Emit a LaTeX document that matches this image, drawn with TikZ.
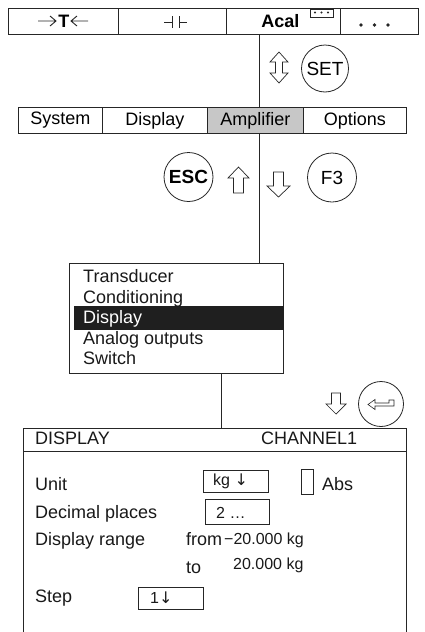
\documentclass[tikz,border=0pt]{standalone}
\usepackage{fontspec}
\setmainfont{Liberation Sans}
\newfontfamily\arrfont{DejaVu Sans}
\begin{document}
\begin{tikzpicture}[x=1pt,y=-1pt,
  ln/.style={draw=black!85, line width=0.8pt},
  cell/.style={ln, minimum height=26pt, inner sep=0pt, anchor=north west, font=\fontsize{18}{20}\selectfont},
  tab/.style={ln, minimum height=26pt, inner sep=0pt, anchor=north west, font=\fontsize{18}{20}\selectfont},
  txt/.style={anchor=base west, inner sep=0pt, font=\fontsize{18}{20}\selectfont, text=black!90},
  sm/.style={anchor=base west, inner sep=0pt, font=\fontsize{16}{18}\selectfont, text=black!90},
  circ/.style={ln, circle, minimum size=47pt, inner sep=0pt, font=\fontsize{19}{20}\selectfont},
  field/.style={ln, anchor=north west, inner sep=0pt},
  harrow/.style={draw=black!85, line width=0.7pt, fill=white, line join=miter},
  thin/.style={draw=black!85, line width=0.9pt},
  dot/.style={fill=black!85, draw=none}
]
\useasboundingbox (0,0) rectangle (424,632);

% top bar
\node[cell, minimum width=110pt] (c1) at (8,8) {\hspace*{1pt}\textbf{T}};
\node[cell, minimum width=108pt] (c2) at (118,8) {};
\node[cell, minimum width=114pt] (c3) at (226,8) {\hspace*{-6pt}\textbf{Acal}};
\node[cell, minimum width=78pt] (c4) at (340,8) {};
% arrows around T
\draw[thin] (38,21) -- (56,21) (50,16) -- (56,21) -- (50,26);
\draw[thin] (71,21) -- (88,21) (77,16) -- (71,21) -- (77,26);
% capacitor-like symbol
\draw[thin, line width=1pt] (164,22) -- (172,22) (172,16) -- (172,28) (179,16) -- (179,28) (179,22) -- (187,22);
% small box above Acal
\node[field, minimum width=23pt, minimum height=8pt] (acalbox) at (310,8.5) {};
\foreach \x in {315,321.5,328} \fill[dot] (\x,12.5) circle (1.1);
% dots in last cell
\foreach \x in {361,374.5,388} \fill[dot] (\x,25) circle (1.9);

% tabs
\node[tab, minimum width=84pt] (t1) at (18,107) {System};
\node[tab, minimum width=105pt] (t2) at (102,107) {Display};
\node[tab, minimum width=96pt, fill=black!22] (t3) at (207,107) {Amplifier};
\node[tab, minimum width=103pt] (t4) at (303,107) {Options};

% SET
\node[circ] (set) at (325,68.5) {SET};
\draw[harrow] (279,52) -- (288,62) -- (282.5,62) -- (282.5,73) -- (288,73) -- (279,83)
  -- (270,73) -- (275.5,73) -- (275.5,62) -- (270,62) -- cycle;

% ESC / F3
\node[circ, minimum size=49pt, font=\fontsize{19}{20}\selectfont\bfseries] (esc) at (188.5,177) {ESC};
\node[circ, minimum size=49pt] (f3) at (332,177.5) {F3};
\draw[harrow] (238.5,167) -- (249,178) -- (243.5,178) -- (243.5,193) -- (233.5,193) -- (233.5,178) -- (228,178) -- cycle;
\draw[harrow] (273.5,172) -- (283.5,172) -- (283.5,186) -- (290,186) -- (278.5,197) -- (267,186) -- (273.5,186) -- cycle;

% menu
\node[ln, minimum width=214pt, minimum height=110pt, anchor=north west, inner sep=0pt] (menu) at (69,263) {};
\node[fill=black!88, minimum width=210pt, minimum height=24pt, anchor=north west, inner sep=0pt] (hl) at (74,306) {};
\node[txt] (m1) at (83,282) {Transducer};
\node[txt] (m2) at (83,303) {Conditioning};
\node[txt, text=white] (m3) at (83,323.5) {Display};
\node[txt] (m4) at (83,344) {Analog outputs};
\node[txt] (m5) at (83,364) {Switch};

% connectors
\coordinate (lx) at (259,0);
\coordinate (ly) at (221,0);
\coordinate (dtop) at (221,428);
\draw[ln] (c3.south -| lx) -- (t3.north -| lx);
\draw[ln] (t3.south -| lx) -- (menu.north -| lx);
\draw[ln] (menu.south -| ly) -- (dtop);

% enter
\node[circ, minimum size=45pt] (enter) at (381,404) {};
\draw[harrow, line width=0.6pt] (368,404.5) -- (375,399.5) -- (375,403) -- (389,403) -- (389,400) -- (394,400)
  -- (394,406) -- (375,406) -- (375,409.5) -- cycle;
\draw[harrow] (331.5,393) -- (340.5,393) -- (340.5,404) -- (346,404) -- (336,414) -- (326,404) -- (331.5,404) -- cycle;

% display box
\draw[ln] (23,632) -- (23,428) -- (406,428) -- (406,632);
\draw[ln] (23,451) -- (406,451);
\node[txt] (dhead) at (35,444) {DISPLAY};
\node[txt] (chan) at (261,444) {CHANNEL1};

\node[txt] (unit) at (35,490) {Unit};
\node[field, minimum width=65pt, minimum height=22pt] (unitbox) at (203,470) {};
\node[sm] (unitval) at (213,485) {kg {\arrfont ↓}};
\node[field, minimum width=12pt, minimum height=25pt] (absbox) at (301,469) {};
\node[txt] (abs) at (322,490) {Abs};

\node[txt] (dec) at (35,518) {Decimal places};
\node[field, minimum width=64pt, minimum height=25pt] (decbox) at (205,499) {};
\node[sm] (decval) at (216,518) {2 …};

\node[txt] (range) at (35,545) {Display range};
\node[txt] (from) at (186,545) {from};
\node[sm] (fromval) at (224,544) {−20.000 kg};
\node[txt] (to) at (186,573) {to};
\node[sm] (toval) at (233,569) {20.000 kg};

\node[txt] (step) at (35,602) {Step};
\node[field, minimum width=65pt, minimum height=22pt] (stepbox) at (138,587) {};
\node[sm] (stepval) at (150,603) {1{\arrfont ↓}};
\end{tikzpicture}
\end{document}
